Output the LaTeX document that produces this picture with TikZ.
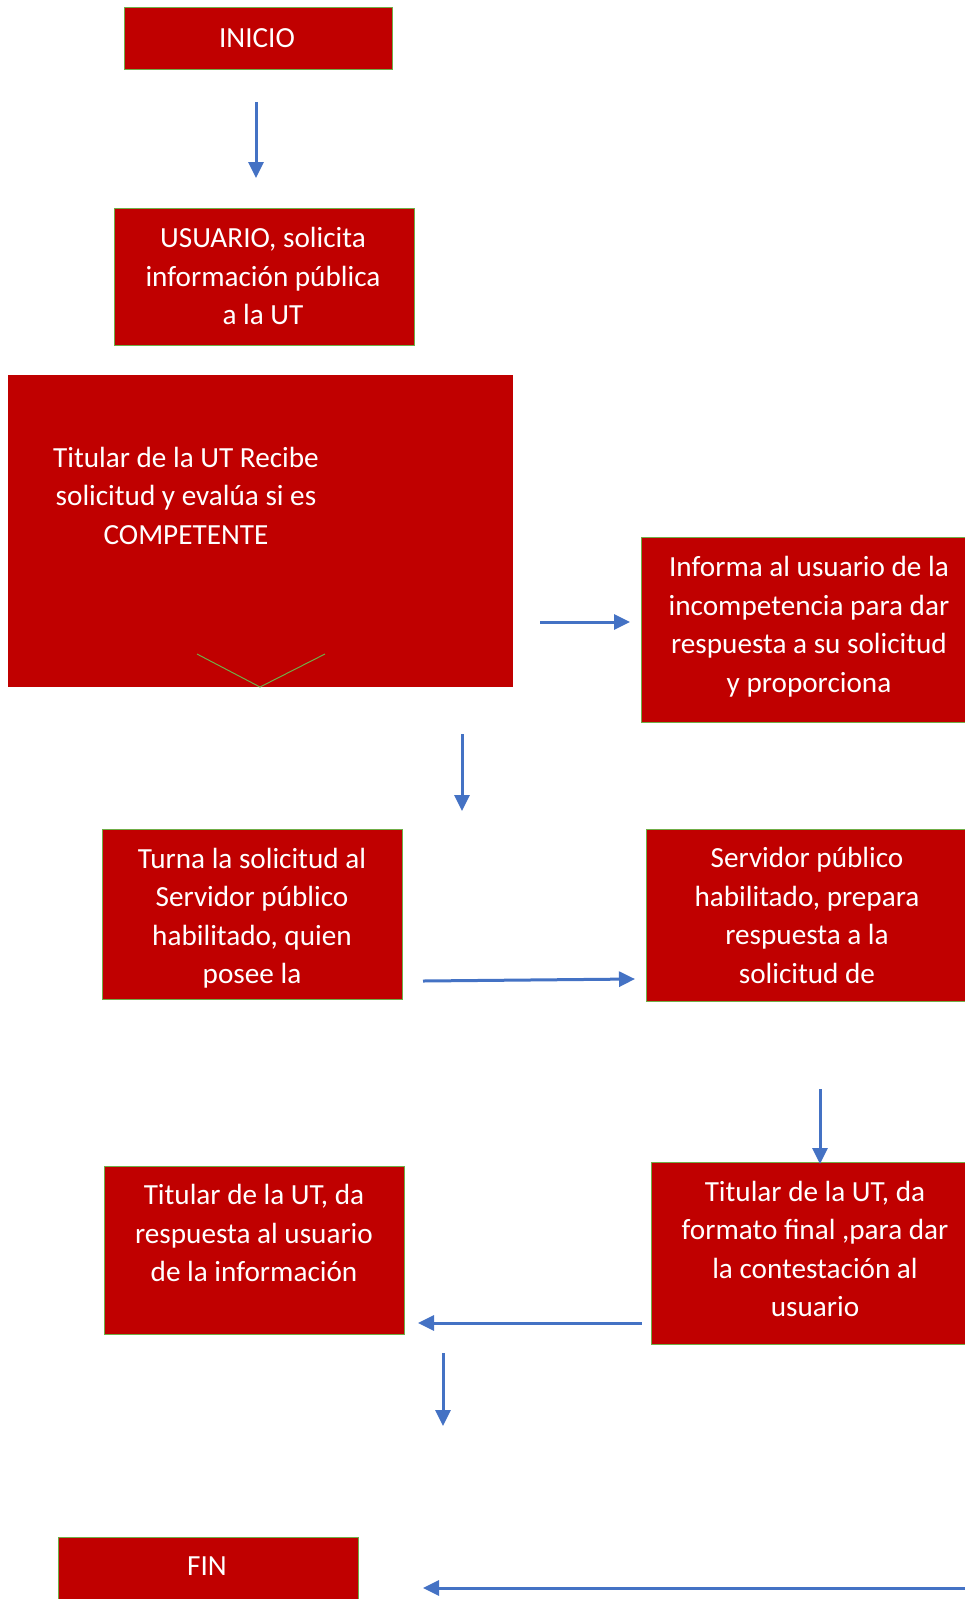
\documentclass[tikz,border=0pt]{standalone}
\usepackage{fontspec}
\setmainfont{Carlito}
\usetikzlibrary{arrows.meta}
\definecolor{boxred}{HTML}{C00000}
\definecolor{boxgreen}{HTML}{70AD47}
\definecolor{flowblue}{HTML}{4472C4}
\begin{document}
\begin{tikzpicture}[x=1pt,y=-1pt,
  box/.style={fill=boxred, draw=boxgreen, line width=0.8pt, inner sep=0pt, outer sep=0pt},
  plainbox/.style={fill=boxred, draw=none, inner sep=0pt, outer sep=0pt},
  txt/.style={text=white, align=center, inner sep=0pt, font=\fontsize{29.2}{38.5}\selectfont},
  flow/.style={draw=flowblue, line width=3pt, -{Triangle[length=16pt,width=15pt]}}]
\useasboundingbox (0,0) rectangle (965,1599);
% boxes
\node[box, minimum width=268pt, minimum height=62pt] (ini) at (258,38) {};
\node[box, minimum width=300pt, minimum height=137pt] (usu) at (264,276.5) {};
\node[plainbox, minimum width=505pt, minimum height=312pt] (rec) at (260.5,531) {};
\draw[boxgreen, line width=1pt] (197,654) -- (260,687) -- (325,654);
\node[box, minimum width=326pt, minimum height=185pt] (inf) at (804,629.5) {};
\node[box, minimum width=300pt, minimum height=170pt] (tur) at (252,914) {};
\node[box, minimum width=321pt, minimum height=172pt] (ser) at (806.5,915) {};
\node[box, minimum width=316pt, minimum height=182pt] (fmt) at (809,1253) {};
\node[box, minimum width=300pt, minimum height=168pt] (res) at (254,1250) {};
\node[box, minimum width=300pt, minimum height=65pt] (fin) at (208,1569.5) {};
% texts
\node[txt] (tini) at (257,38) {INICIO};
\node[txt] (tusu) at (263,276) {USUARIO, solicita\\información pública\\a la UT};
\node[txt] (trec) at (186,495.6) {Titular de la UT Recibe\\solicitud y evalúa si es\\COMPETENTE};
\node[txt] (tinf) at (809,626.5) {Informa al usuario de la\\incompetencia para dar\\respuesta a su solicitud\\y proporciona};
\node[txt] (ttur) at (252,918.3) {Turna la solicitud al\\Servidor público\\habilitado, quien\\posee la};
\node[txt] (tser) at (807,915.5) {Servidor público\\habilitado, prepara\\respuesta a la\\solicitud de};
\node[txt] (tfmt) at (815,1249) {Titular de la UT, da\\formato final ,para dar\\la contestación al\\usuario};
\node[txt] (tres) at (254,1233) {Titular de la UT, da\\respuesta al usuario\\de la información};
\node[txt] (tfin) at (207,1566.5) {FIN};
% arrow end points
\coordinate (a1s) at (256,102);  \coordinate (a1e) at (256,178);
\coordinate (a2s) at (540,622);  \coordinate (a2e) at (630,622);
\coordinate (a3s) at (462,734);  \coordinate (a3e) at (462,811);
\coordinate (a4s) at (423,981);  \coordinate (a4e) at (635,979);
\coordinate (a5s) at (820,1089); \coordinate (a5e) at (820,1164);
\coordinate (a6s) at (642,1323); \coordinate (a6e) at (418,1323);
\coordinate (a7s) at (443,1353); \coordinate (a7e) at (443,1426);
\coordinate (a8s) at (967,1588); \coordinate (a8e) at (423,1588);
\draw[flow] (a1s) -- (a1e);
\draw[flow] (a2s) -- (a2e);
\draw[flow] (a3s) -- (a3e);
\draw[flow] (a4s) -- (a4e);
\draw[flow] (a5s) -- (a5e);
\draw[flow] (a6s) -- (a6e);
\draw[flow] (a7s) -- (a7e);
\draw[flow] (a8s) -- (a8e);
\end{tikzpicture}
\end{document}
